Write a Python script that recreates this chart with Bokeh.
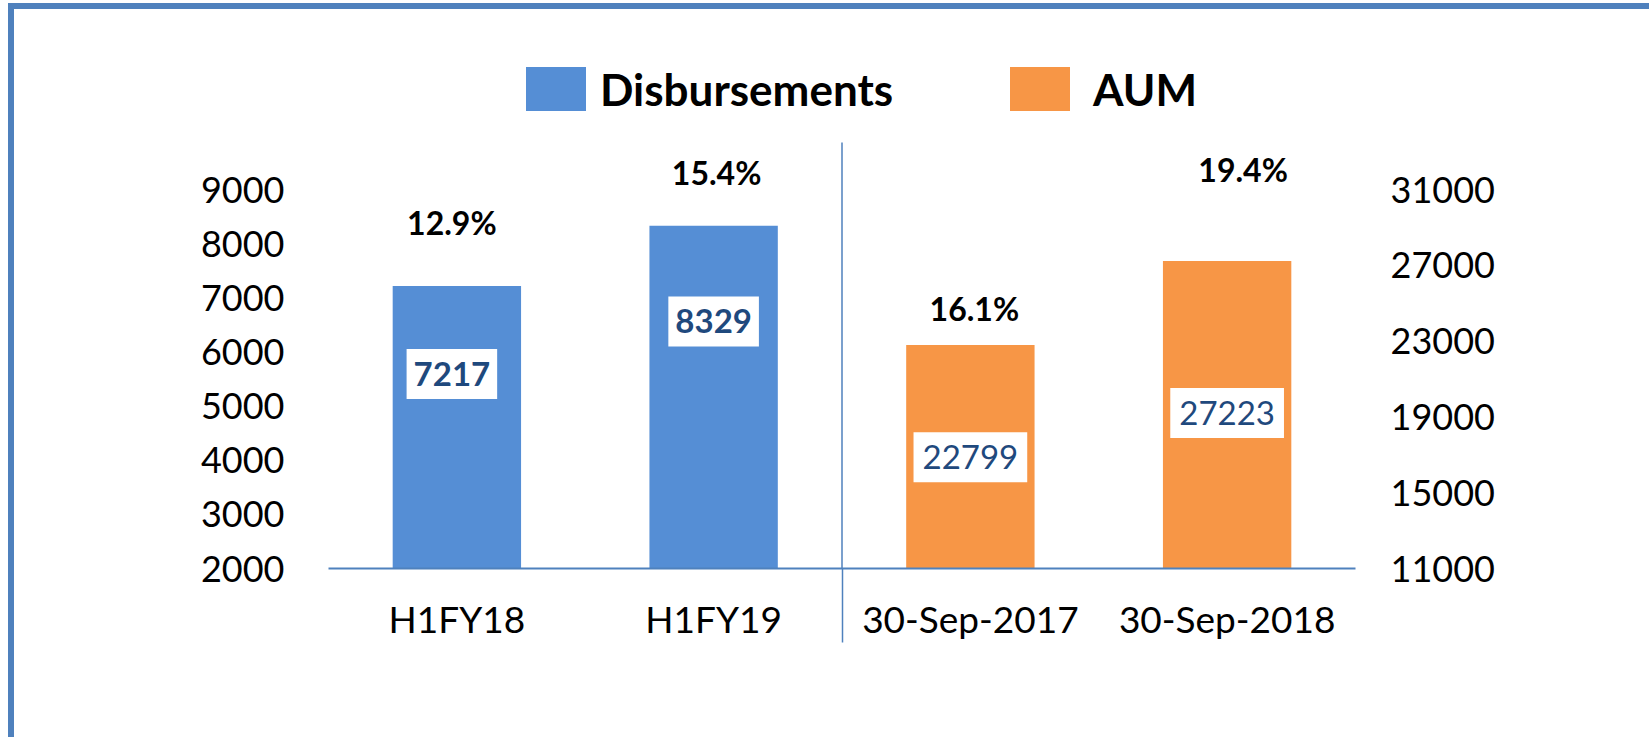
from bokeh.plotting import figure
from bokeh.models import (Range1d, LinearAxis, FixedTicker, Legend, LegendItem)
from bokeh.core.properties import value
from bokeh.embed import file_html
from bokeh.resources import INLINE

# ---------------- data ----------------
categories = ["H1FY18", "H1FY19", "30-Sep-2017", "30-Sep-2018"]
disb_cats = ["H1FY18", "H1FY19"]
disb_values = [7217, 8329]
disb_growth = ["12.9%", "15.4%"]
aum_cats = ["30-Sep-2017", "30-Sep-2018"]
aum_values = [22799, 27223]
aum_growth = ["16.1%", "19.4%"]
left_ticks = [2000, 3000, 4000, 5000, 6000, 7000, 8000, 9000]
right_ticks = [11000, 15000, 19000, 23000, 27000, 31000]

# ---------------- styles / layout ----------------
FONT = "Lato"
BLUE = "#558ED5"
ORANGE = "#F79646"
LINE = "#4F81BD"
NAVY = "#1F497D"
disb_box_frac = [0.689, 0.721]
aum_box_frac = [0.498, 0.506]
disb_box_dx = [-5, 0]
aum_box_dx = [0, 0]
disb_pct_dx = [-5, 3]
disb_pct_dy = [64, 53]
aum_pct_dx = [4, 16]
aum_pct_dy = [36, 92]

# pixel layout (figure coordinates)
W, H = 1635, 728
FRAME_TOP = 31          # frame top in figure px
FRAME_BOTTOM = 559      # baseline in figure px
SEP_TOP = 133           # top of the vertical separator in figure px
TICK_SPAN_PX = 379      # px between first and last left tick
frame_h = FRAME_BOTTOM - FRAME_TOP
left_upp = (left_ticks[-1] - left_ticks[0]) / TICK_SPAN_PX
right_upp = (right_ticks[-1] - right_ticks[0]) / TICK_SPAN_PX
left_end = left_ticks[0] + frame_h * left_upp
right_end = right_ticks[0] + frame_h * right_upp
sep_top_val = left_ticks[0] + (FRAME_BOTTOM - SEP_TOP) * left_upp

# category slot positions (center of each category slot on a linear axis)
pos = {c: i + 0.5 for i, c in enumerate(categories)}
disb_x = [pos[c] for c in disb_cats]
aum_x = [pos[c] for c in aum_cats]

p = figure(x_range=Range1d(0, len(categories)), y_range=Range1d(left_ticks[0], left_end),
           width=W, height=H, output_backend="svg", toolbar_location=None,
           x_axis_location=None, y_axis_location=None,
           min_border_left=314, min_border_right=294,
           min_border_top=FRAME_TOP, min_border_bottom=H - FRAME_BOTTOM)
p.styles = {"margin-left": "14px", "margin-top": "9px",
            "outline": "6px solid #4F81BD"}
p.outline_line_color = None
p.grid.visible = False
p.background_fill_color = "white"
p.border_fill_color = "white"

p.extra_y_ranges = {"aum": Range1d(right_ticks[0], right_end)}

# bars
r1 = p.vbar(x=disb_x, top=disb_values, bottom=left_ticks[0], width=0.5,
            fill_color=BLUE, line_color=None)
r2 = p.vbar(x=aum_x, top=aum_values, bottom=right_ticks[0], width=0.5,
            fill_color=ORANGE, line_color=None, y_range_name="aum")

# separator between the two groups
p.segment(x0=[len(disb_cats)], y0=[left_ticks[0]], x1=[len(disb_cats)], y1=[sep_top_val],
          line_color=LINE, line_width=1.5)

# value boxes
disb_box_y = [left_ticks[0] + f * (v - left_ticks[0]) for f, v in zip(disb_box_frac, disb_values)]
aum_box_y = [right_ticks[0] + f * (v - right_ticks[0]) for f, v in zip(aum_box_frac, aum_values)]
p.text(x=disb_x, y=disb_box_y, text=[str(v) for v in disb_values], x_offset=disb_box_dx,
       text_font=value(FONT), text_font_size="33px", text_font_style="bold",
       text_color=NAVY, text_align="center", text_baseline="middle",
       background_fill_color="white", padding=(7, 13))
p.text(x=aum_x, y=aum_box_y, text=[str(v) for v in aum_values], x_offset=aum_box_dx,
       text_font=value(FONT), text_font_size="33px", text_font_style="normal",
       text_color=NAVY, text_align="center", text_baseline="middle",
       background_fill_color="white", padding=(9, 13), y_range_name="aum")

# growth labels
p.text(x=disb_x, y=disb_values, text=disb_growth, x_offset=disb_pct_dx,
       y_offset=[-d for d in disb_pct_dy],
       text_font=value(FONT), text_font_size="32px", text_font_style="bold",
       text_color="black", text_align="center", text_baseline="middle")
p.text(x=aum_x, y=aum_values, text=aum_growth, x_offset=aum_pct_dx,
       y_offset=[-d for d in aum_pct_dy],
       text_font=value(FONT), text_font_size="32px", text_font_style="bold",
       text_color="black", text_align="center", text_baseline="middle",
       y_range_name="aum")

# axes
def style_y(ax, standoff):
    ax.axis_line_color = None
    ax.major_tick_line_color = None
    ax.minor_tick_line_color = None
    ax.major_tick_out = 0
    ax.major_label_standoff = standoff
    ax.major_label_text_font = FONT
    ax.major_label_text_font_size = "36px"
    ax.major_label_text_color = "black"

yl = LinearAxis(ticker=FixedTicker(ticks=left_ticks))
style_y(yl, 44)
p.add_layout(yl, "left")
yr = LinearAxis(y_range_name="aum", ticker=FixedTicker(ticks=right_ticks))
style_y(yr, 35)
p.add_layout(yr, "right")

xa = LinearAxis(ticker=FixedTicker(ticks=[pos[c] for c in categories],
                                   minor_ticks=[len(disb_cats)]),
                major_label_overrides={pos[c]: c for c in categories})
xa.axis_line_color = LINE
xa.axis_line_width = 2
xa.major_tick_line_color = None
xa.major_tick_out = 0
xa.major_tick_in = 0
xa.minor_tick_line_color = LINE
xa.minor_tick_line_width = 1.5
xa.minor_tick_out = 74
xa.minor_tick_in = 0
xa.major_label_standoff = -47
xa.major_label_text_font = FONT
xa.major_label_text_font_size = "37px"
xa.major_label_text_color = "black"
p.add_layout(xa, "below")

# legends (inside the frame, above the bars)
def make_legend(label, rend, vx, standoff):
    return Legend(items=[LegendItem(label=label, renderers=[rend])], location=(vx, 452),
                  orientation="horizontal", glyph_width=75, glyph_height=55,
                  label_standoff=standoff, padding=0, margin=0, border_line_color=None,
                  background_fill_alpha=0, label_text_font=FONT, label_text_font_size="44px",
                  label_text_font_style="bold", label_text_color="black", label_height=55)

p.add_layout(make_legend("Disbursements", r1, 190, 7))
p.add_layout(make_legend("AUM", r2, 674, 16))

open("out.html", "w").write(file_html(p, INLINE))
